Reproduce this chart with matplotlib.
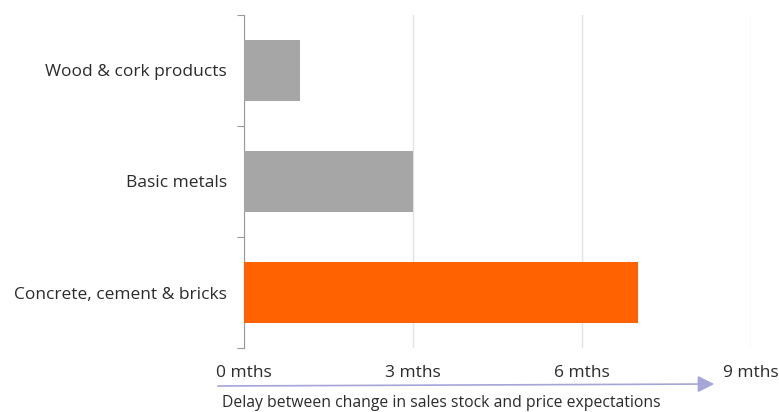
import matplotlib

matplotlib.use("Agg")
import matplotlib.pyplot as plt
import numpy as np

plt.rcParams.update({"font.family": "Open Sans", "font.size": 12.5})

categories = ["Concrete, cement & bricks", "Basic metals", "Wood & cork products"]
delay_months = [7, 3, 1]
bar_colors = ["#FF6200", "#A6A6A6", "#A6A6A6"]
x_ticks = [0, 3, 6, 9]
x_labels = ["0 mths", "3 mths", "6 mths", "9 mths"]

fig = plt.figure(figsize=(7.79, 4.12), dpi=100)
ax = fig.add_axes([0.313, 0.155, 0.651, 0.809])

y = np.arange(len(categories))
ax.barh(y, delay_months, height=0.55, color=bar_colors, zorder=3)

ax.set_xlim(0, 9)
ax.set_ylim(-0.5, len(categories) - 0.5)
ax.set_xticks(x_ticks)
ax.set_xticklabels(x_labels, color="#2b2b2b")
ax.tick_params(axis="x", length=0, pad=12)
ax.grid(axis="x", color="#E3E3E3", linewidth=1, zorder=0)

# boundary ticks on the spine, category names as minor ticks
ax.set_yticks(np.arange(-0.5, len(categories), 1.0))
ax.set_yticklabels([])
ax.tick_params(axis="y", which="major", length=5, color="#999999", direction="out")
ax.set_yticks(y, minor=True)
ax.set_yticklabels(categories, minor=True, color="#2b2b2b")
ax.tick_params(axis="y", which="minor", length=0, pad=12)

for side in ["top", "right", "bottom"]:
    ax.spines[side].set_visible(False)
ax.spines["left"].set_color("#999999")

fig.patches.append(
    matplotlib.patches.FancyArrowPatch(
        (215 / 779, 1 - 386 / 412), (717 / 779, 1 - 384 / 412),
        transform=fig.transFigure, arrowstyle="-|>,head_length=10,head_width=5",
        color="#A5A5D8", linewidth=1.2, mutation_scale=1,
    )
)
fig.text(441 / 779, 1 - 403 / 412, "Delay between change in sales stock and price expectations",
         ha="center", va="center", fontsize=11.3, color="#2b2b2b")

fig.savefig("out.png", dpi=100)
